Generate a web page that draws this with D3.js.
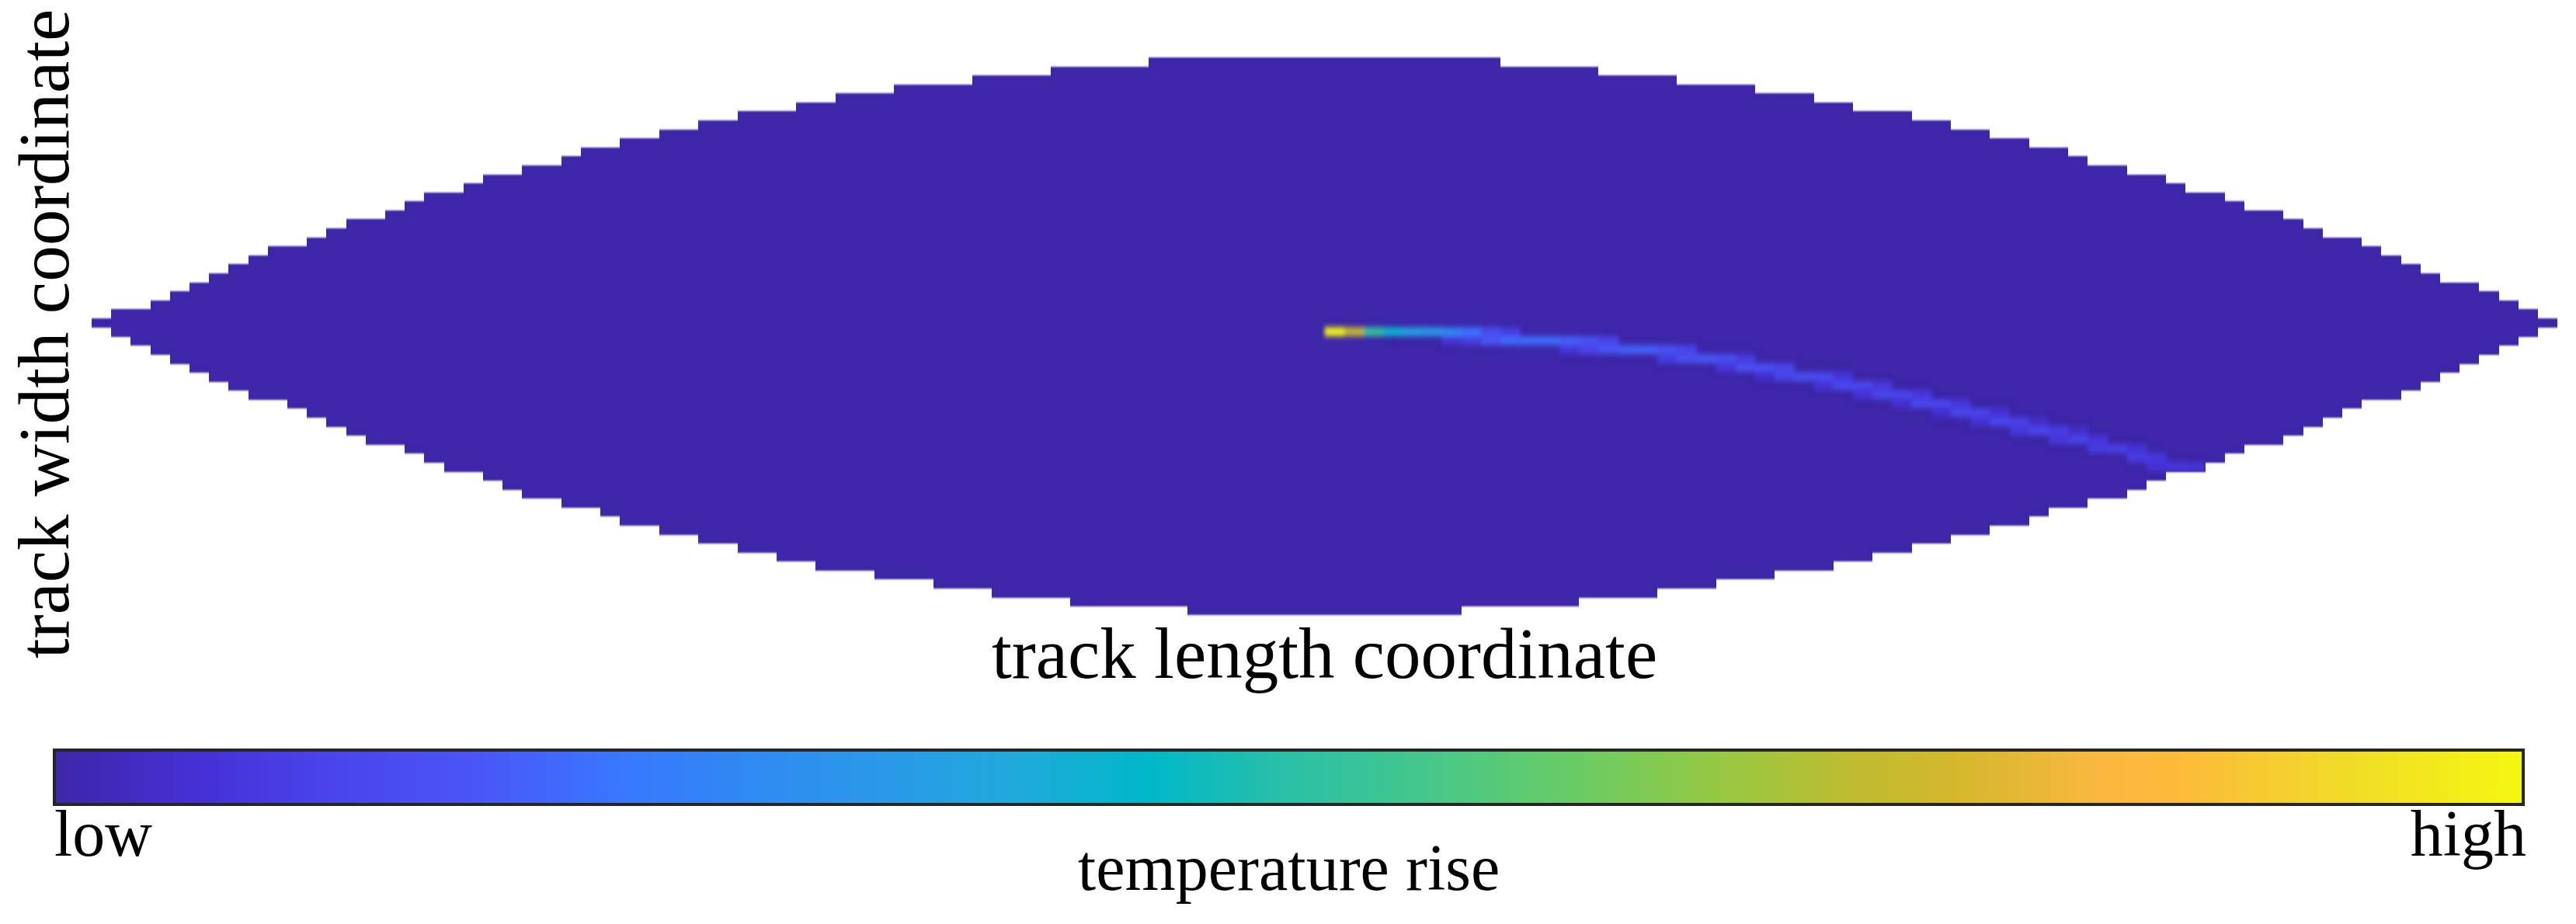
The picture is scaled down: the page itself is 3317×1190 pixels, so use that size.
<!DOCTYPE html>
<html>
<head>
<meta charset="utf-8">
<script src="https://cdn.jsdelivr.net/npm/d3@7"></script>
<style>
  html, body { margin: 0; padding: 0; background: #ffffff; }
  svg { display: block; }
  text { font-family: "Liberation Serif", "Times New Roman", serif; fill: #000; }
</style>
</head>
<body>
<svg id="chart" width="3317" height="1190"></svg>
<script>
// ---------------- data ----------------
// heat-map grid: 126 columns along the track length, 62 rows across the width
const colCount = 126;
const rowCount = 62;

// first column inside the contact patch, for each row (top to bottom)
const rowStart = [54,49,45,41,38,36,33,31,29,27,25,24,22,20,19,17,16,15,13,12,
                  11,9,8,7,6,5,4,3,1,0,
                  1,2,3,4,5,6,7,8,10,11,12,13,14,16,17,18,20,21,22,24,
                  26,27,29,31,33,35,37,40,43,46,50,56];
// column after the last one inside the contact patch, for each row
const rowEnd = [72,77,81,85,88,90,93,95,97,99,101,102,104,106,107,109,110,112,113,114,
                116,117,118,119,120,122,123,124,125,126,
                125,124,123,122,121,120,119,118,116,115,114,113,112,110,109,108,106,105,104,102,
                100,99,97,95,93,91,89,86,83,80,76,70];

// normalised temperature rise of the heated cells (all other cells are 0)
const trailCol = [63,64,65,66,67,68,69,69,70,70,71,71,72,72,73,74,75,75,76,76,77,77,
                  78,79,80,80,81,81,82,83,83,84,84,85,85,86,86,87,88,88,89,89,90,90,
                  91,91,92,92,93,93,94,94,95,95,96,96,97,97,98,98,99,99,100,100,101,101,
                  102,102,103,104,104,105,105,106,107];
const trailRow = [30,30,30,30,30,30,30,31,30,31,30,31,30,31,31,31,31,32,31,32,31,32,
                  32,32,32,33,32,33,33,33,34,33,34,34,35,34,35,35,35,36,35,36,36,37,
                  36,37,37,38,37,38,38,39,38,39,39,40,39,40,40,41,41,40,41,42,42,41,
                  42,43,43,43,44,44,45,45,45];
const trailVal = [1.00,0.74,0.52,0.42,0.36,0.33,0.27,0.06,0.22,0.09,0.15,0.17,0.09,0.21,0.21,0.21,0.19,0.07,0.16,0.11,0.11,0.17,
                  0.19,0.19,0.16,0.09,0.11,0.15,0.17,0.15,0.07,0.09,0.15,0.15,0.05,0.11,0.11,0.15,0.13,0.06,0.07,0.13,0.12,0.06,
                  0.08,0.12,0.12,0.05,0.08,0.12,0.12,0.05,0.07,0.12,0.11,0.06,0.06,0.12,0.10,0.08,0.12,0.04,0.09,0.08,0.11,0.04,
                  0.07,0.09,0.10,0.06,0.09,0.08,0.06,0.08,0.07];

// colour map (parula-like) as seen on the colour bar
const cmapPos = [0.00,0.058,0.11,0.17,0.23,0.29,0.338,0.39,0.444,0.497,0.55,0.617,0.677,0.73,0.77,0.83,0.863,0.93,1.00];
const cmapHex = ["#3e26a8","#4530d5","#4944ea","#4a55f6","#3878ff","#2e8cf0","#2a9ae8","#1eaada","#00b8c8","#28c0a8",
                 "#42c78e","#6acc64","#98c840","#c0bc30","#d4b82c","#fab840","#fcbc38","#f0dc28","#f5f810"];

const xTitle = "track length coordinate";
const yTitle = "track width coordinate";
const cbTitle = "temperature rise";
const cbLabels = ["low", "high"];

// ---------------- drawing ----------------
const svg = d3.select("#chart");
const defs = svg.append("defs");

const x = d3.scaleLinear().domain([0, colCount]).range([118, 3293.2]);
const y = d3.scaleLinear().domain([0, rowCount]).range([74, 792]);
const color = d3.scaleLinear().domain(cmapPos).range(cmapHex).interpolate(d3.interpolateRgb).clamp(true);

defs.append("filter").attr("id", "soft")
  .attr("x", "-2%").attr("y", "-5%").attr("width", "104%").attr("height", "110%")
  .append("feGaussianBlur").attr("stdDeviation", "0.4 1.1");
defs.append("filter").attr("id", "trailBlur")
  .attr("x", "-10%").attr("y", "-50%").attr("width", "120%").attr("height", "200%")
  .append("feGaussianBlur").attr("stdDeviation", "2.4 3.6");

const rows = d3.range(rowCount).map(j => ({ j, s: rowStart[j], e: rowEnd[j] }));
const rowRect = sel => sel
  .attr("x", d => x(d.s))
  .attr("y", d => y(d.j))
  .attr("width", d => x(d.e) - x(d.s))
  .attr("height", d => y(d.j + 1) - y(d.j) + (d.j < rowCount - 1 ? 0.8 : 0));

// clip region = the contact patch
defs.append("clipPath").attr("id", "patchClip")
  .selectAll("rect").data(rows).join("rect").call(rowRect);

// background of the contact patch: one band per grid row
svg.append("g").attr("filter", "url(#soft)")
  .selectAll("rect").data(rows).join("rect")
  .call(rowRect)
  .attr("fill", color(0))
  .attr("shape-rendering", "crispEdges");

// heated cells
const cells = trailCol.map((c, i) => ({ c, r: trailRow[i], v: trailVal[i] }));
svg.append("g").attr("clip-path", "url(#patchClip)")
  .append("g").attr("filter", "url(#trailBlur)")
  .selectAll("rect").data(cells).join("rect")
  .attr("x", d => x(d.c))
  .attr("y", d => y(d.r))
  .attr("width", d => x(d.c + 1) - x(d.c) + 0.5)
  .attr("height", d => y(d.r + 1) - y(d.r))
  .attr("fill", d => color(d.v));

// axis titles
svg.append("text")
  .attr("x", (x(0) + x(colCount)) / 2).attr("y", 873)
  .attr("text-anchor", "middle").attr("font-size", 93)
  .text(xTitle);
svg.append("text")
  .attr("transform", "translate(88," + 430 + ") rotate(-90)")
  .attr("text-anchor", "middle").attr("font-size", 93)
  .text(yTitle);

// colour bar
const cbX0 = 70, cbX1 = 3249, cbY0 = 966, cbY1 = 1036;
const grad = defs.append("linearGradient").attr("id", "cbGrad")
  .attr("x1", "0%").attr("x2", "100%").attr("y1", "0%").attr("y2", "0%");
grad.selectAll("stop").data(cmapPos).join("stop")
  .attr("offset", d => (d * 100) + "%")
  .attr("stop-color", (d, i) => cmapHex[i]);
svg.append("rect")
  .attr("x", cbX0).attr("y", cbY0)
  .attr("width", cbX1 - cbX0).attr("height", cbY1 - cbY0)
  .attr("fill", "url(#cbGrad)")
  .attr("stroke", "#262626").attr("stroke-width", 4);

svg.append("text").attr("x", 70).attr("y", 1102)
  .attr("text-anchor", "start").attr("font-size", 84).text(cbLabels[0]);
svg.append("text").attr("x", 3253).attr("y", 1102)
  .attr("text-anchor", "end").attr("font-size", 84).text(cbLabels[1]);
svg.append("text").attr("x", (cbX0 + cbX1) / 2).attr("y", 1146)
  .attr("text-anchor", "middle").attr("font-size", 84).text(cbTitle);
</script>
</body>
</html>
